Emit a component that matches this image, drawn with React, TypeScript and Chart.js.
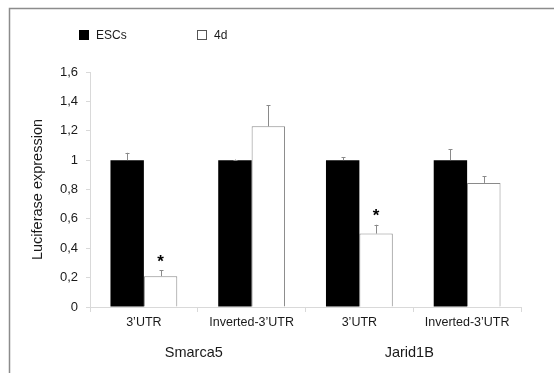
import { useEffect, useRef } from "react";
import { Chart, registerables } from "chart.js";

Chart.register(...registerables);

// Reporter constructs (x categories) grouped by gene
const categories = ["3’UTR", "Inverted-3’UTR", "3’UTR", "Inverted-3’UTR"];
const genes = ["Smarca5", "Jarid1B"];

// Mean luciferase expression, normalised to ESCs
const escValues = [1, 1, 1, 1];
const escErrors = [0.05, 0.004, 0.02, 0.075];
const d4Values = [0.21, 1.23, 0.5, 0.845];
const d4Errors = [0.04, 0.145, 0.06, 0.045];
const d4Significant = [true, false, true, false];

const seriesNames = ["ESCs", "4d"];

// y-axis
const yMin = 0;
const yMax = 1.6;
const yStep = 0.2;

const FONT = "'Liberation Sans', Arial, Helvetica, sans-serif";
const TEXT = "#1a1a1a";
const AXIS = "#d9d9d9";
const ERR = "#8a8a8a";

const formatTick = (v: number) => {
  if (Math.abs(v - Math.round(v)) < 1e-9) return String(Math.round(v));
  return v.toFixed(1).replace(".", ",");
};

const decorations = {
  id: "decorations",
  beforeDraw(chart: any) {
    const { ctx } = chart;
    ctx.save();
    // panel frame (top and left edges)
    ctx.strokeStyle = "#8c8c8c";
    ctx.lineWidth = 1.5;
    ctx.beginPath();
    ctx.moveTo(9.5, chart.height);
    ctx.lineTo(9.5, 8.5);
    ctx.lineTo(chart.width, 8.5);
    ctx.stroke();
    ctx.restore();
  },
  afterDatasetsDraw(chart: any) {
    const { ctx } = chart;
    const yScale = chart.scales.y;
    const errs = [escErrors, d4Errors];
    ctx.save();
    ctx.strokeStyle = ERR;
    ctx.lineWidth = 1;
    chart.data.datasets.forEach((ds: any, di: number) => {
      const meta = chart.getDatasetMeta(di);
      meta.data.forEach((bar: any, i: number) => {
        const v = ds.data[i];
        const e = errs[di][i];
        const x = Math.round(bar.x) + 0.5;
        const y0 = yScale.getPixelForValue(v);
        const y1 = yScale.getPixelForValue(v + e);
        ctx.beginPath();
        ctx.moveTo(x, y0);
        ctx.lineTo(x, y1);
        ctx.moveTo(x - 2, Math.round(y1) + 0.5);
        ctx.lineTo(x + 2, Math.round(y1) + 0.5);
        ctx.stroke();
        if (di === 1 && d4Significant[i]) {
          ctx.fillStyle = "#000";
          ctx.font = `bold 17px ${FONT}`;
          ctx.textAlign = "center";
          ctx.textBaseline = "middle";
          ctx.fillText("*", bar.x, y1 - 8);
        }
      });
    });

    // gene labels under each pair of constructs
    const xScale = chart.scales.x;
    ctx.fillStyle = TEXT;
    ctx.font = `14.5px ${FONT}`;
    ctx.textAlign = "center";
    ctx.textBaseline = "middle";
    genes.forEach((g, gi) => {
      const a = xScale.getPixelForValue(gi * 2);
      const b = xScale.getPixelForValue(gi * 2 + 1);
      ctx.fillText(g, (a + b) / 2 - 4, 353);
    });

    // legend
    ctx.font = `12px ${FONT}`;
    ctx.textAlign = "left";
    ctx.textBaseline = "middle";
    const legendX = [79, 197];
    seriesNames.forEach((name, si) => {
      const ds = chart.data.datasets[si];
      const x = legendX[si];
      ctx.fillStyle = ds.backgroundColor;
      ctx.fillRect(x, 30, 10, 10);
      if (si === 1) {
        ctx.strokeStyle = "#555";
        ctx.strokeRect(x + 0.5, 30.5, 9, 9);
      }
      ctx.fillStyle = TEXT;
      ctx.fillText(name, x + 17, 35.5);
    });
    ctx.restore();
  },
};

export default function App() {
  const canvasRef = useRef<HTMLCanvasElement | null>(null);

  useEffect(() => {
    const canvas = canvasRef.current;
    if (!canvas) return;
    const chart = new Chart(canvas, {
      type: "bar",
      data: {
        labels: categories,
        datasets: [
          {
            label: seriesNames[0],
            data: escValues,
            backgroundColor: "#000000",
            borderColor: "#000000",
            borderWidth: 0,
            categoryPercentage: 0.62,
            barPercentage: 1,
          },
          {
            label: seriesNames[1],
            data: d4Values,
            backgroundColor: "#ffffff",
            borderColor: "#8a8a8a",
            borderWidth: 1,
            categoryPercentage: 0.62,
            barPercentage: 1,
          },
        ],
      },
      options: {
        animation: false,
        responsive: false,
        layout: { padding: { left: 0, top: 72, right: 33, bottom: 0 } },
        plugins: {
          legend: { display: false },
          tooltip: { enabled: false },
        },
        scales: {
          x: {
            grid: {
              drawOnChartArea: false,
              drawTicks: true,
              tickLength: 5,
              color: AXIS,
              offset: true,
            },
            border: { color: AXIS },
            ticks: {
              color: TEXT,
              font: { family: FONT, size: 12.5 },
              padding: 3,
              maxRotation: 0,
              autoSkip: false,
            },
            afterFit(scale: any) {
              scale.height = 66;
            },
          },
          y: {
            min: yMin,
            max: yMax,
            grid: {
              drawOnChartArea: false,
              drawTicks: true,
              tickLength: 4,
              color: AXIS,
            },
            border: { color: AXIS },
            ticks: {
              stepSize: yStep,
              color: TEXT,
              font: { family: FONT, size: 13 },
              padding: 8,
              callback: (v: any) => formatTick(Number(v)),
            },
            title: {
              display: true,
              text: "Luciferase expression",
              color: TEXT,
              font: { family: FONT, size: 14.5 },
              padding: { top: 29, bottom: 0 },
            },
            afterFit(scale: any) {
              scale.width = 90;
            },
          },
        },
      },
      plugins: [decorations],
    });
    return () => chart.destroy();
  }, []);

  return (
    <div style={{ position: "fixed", left: 0, top: 0, width: 554, height: 373, background: "#fff" }}>
      <canvas ref={canvasRef} width={554} height={373} style={{ display: "block" }} />
    </div>
  );
}
